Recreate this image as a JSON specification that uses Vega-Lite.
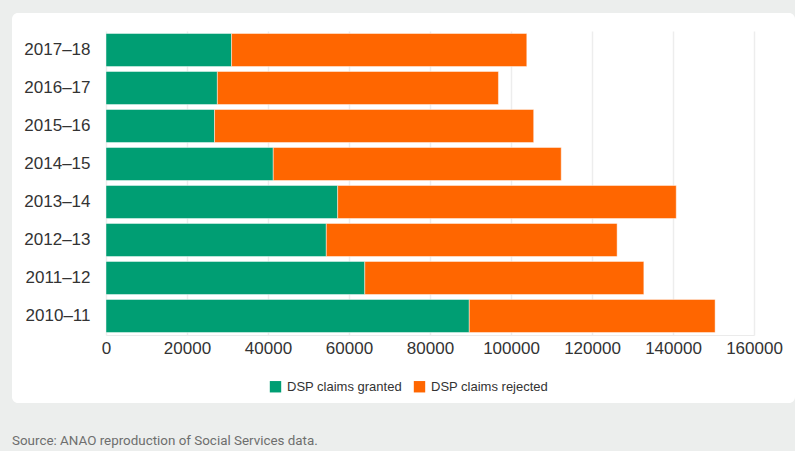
{
  "$schema": "https://vega.github.io/schema/vega-lite/v6.json",
  "width": 783,
  "height": 390,
  "autosize": {"type": "none"},
  "padding": {"left": 12, "top": 13, "right": 0, "bottom": 48},
  "background": "#eceeed",
  "config": {
    "view": {"fill": "#ffffff", "stroke": null, "cornerRadius": 6},
    "font": "Liberation Sans"
  },
  "title": {
    "text": "Source: ANAO reproduction of Social Services data.",
    "orient": "bottom",
    "anchor": "start",
    "frame": "group",
    "offset": 31,
    "fontSize": 13.4,
    "fontWeight": "normal",
    "color": "#6e6e6e",
    "font": "Roboto"
  },
  "data": {
    "values": [
      {"year": "2017–18", "type": "DSP claims granted", "claims": 31000},
      {"year": "2017–18", "type": "DSP claims rejected", "claims": 72900},
      {"year": "2016–17", "type": "DSP claims granted", "claims": 27500},
      {"year": "2016–17", "type": "DSP claims rejected", "claims": 69400},
      {"year": "2015–16", "type": "DSP claims granted", "claims": 26800},
      {"year": "2015–16", "type": "DSP claims rejected", "claims": 78800},
      {"year": "2014–15", "type": "DSP claims granted", "claims": 41300},
      {"year": "2014–15", "type": "DSP claims rejected", "claims": 71100},
      {"year": "2013–14", "type": "DSP claims granted", "claims": 57200},
      {"year": "2013–14", "type": "DSP claims rejected", "claims": 83600},
      {"year": "2012–13", "type": "DSP claims granted", "claims": 54400},
      {"year": "2012–13", "type": "DSP claims rejected", "claims": 71800},
      {"year": "2011–12", "type": "DSP claims granted", "claims": 63900},
      {"year": "2011–12", "type": "DSP claims rejected", "claims": 68900},
      {"year": "2010–11", "type": "DSP claims granted", "claims": 89700},
      {"year": "2010–11", "type": "DSP claims rejected", "claims": 60700}
    ]
  },
  "mark": {"type": "bar", "stroke": "#ffffff", "strokeWidth": 1, "strokeOpacity": 0.45},
  "encoding": {
    "x": {
      "field": "claims",
      "type": "quantitative",
      "stack": "zero",
      "scale": {"domain": [0, 160000], "range": [94, 742], "nice": false, "zero": true},
      "axis": {
        "title": null,
        "orient": "top",
        "offset": -322,
        "values": [0, 20000, 40000, 60000, 80000, 100000, 120000, 140000, 160000],
        "format": "d",
        "ticks": false,
        "tickSize": 0,
        "labelPadding": -5,
        "labelBaseline": "top",
        "labelFlush": false,
        "labelOverlap": false,
        "labelFontSize": 17,
        "labelColor": "#333333",
        "labelFont": "Liberation Sans",
        "domain": true,
        "domainColor": "#ebebeb",
        "domainWidth": 1,
        "grid": true,
        "gridColor": "#ededed",
        "gridWidth": 1.5
      }
    },
    "y": {
      "field": "year",
      "type": "nominal",
      "sort": ["2017–18", "2016–17", "2015–16", "2014–15", "2013–14", "2012–13", "2011–12", "2010–11"],
      "scale": {"range": [18, 322], "paddingInner": 0.13, "paddingOuter": 0.066},
      "axis": {
        "title": null,
        "orient": "left",
        "offset": -94,
        "ticks": false,
        "tickSize": 0,
        "domain": false,
        "grid": false,
        "labelPadding": 16,
        "labelFontSize": 17,
        "labelColor": "#333333",
        "labelFont": "Liberation Sans"
      }
    },
    "color": {
      "field": "type",
      "type": "nominal",
      "scale": {"domain": ["DSP claims granted", "DSP claims rejected"], "range": ["#009e73", "#ff6600"]},
      "legend": {
        "title": null,
        "orient": "none",
        "direction": "horizontal",
        "legendX": 257,
        "legendY": 367,
        "padding": 0,
        "symbolType": "square",
        "symbolSize": 130,
        "symbolStrokeWidth": 0,
        "symbolOpacity": 1,
        "labelFontSize": 13,
        "labelColor": "#333333",
        "labelFont": "Liberation Sans",
        "labelOffset": 5,
        "columnPadding": 11
      }
    }
  }
}
